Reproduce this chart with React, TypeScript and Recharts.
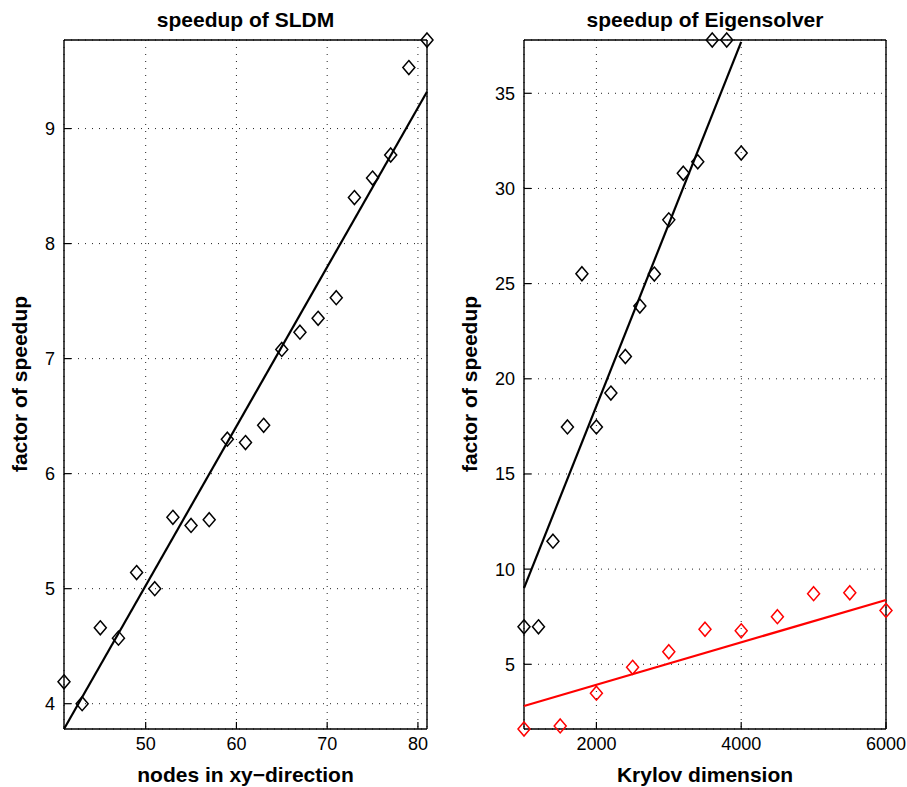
import { ScatterChart, Scatter, XAxis, YAxis, CartesianGrid } from 'recharts'

// left panel: speedup of SLDM
const sldmNodes = [41, 43, 45, 47, 49, 51, 53, 55, 57, 59, 61, 63, 65, 67, 69, 71, 73, 75, 77, 79, 81]
const sldmSpeedup = [4.19, 4.0, 4.66, 4.57, 5.14, 5.0, 5.62, 5.55, 5.6, 6.3, 6.27, 6.42, 7.08, 7.23, 7.35, 7.53, 8.4, 8.57, 8.77, 9.53, 9.77]
const sldmFitNodes = [41, 81]
const sldmFitSpeedup = [3.78, 9.32]
const sldmXTicks = [50, 60, 70, 80]
const sldmYTicks = [4, 5, 6, 7, 8, 9]

// right panel: speedup of Eigensolver
const krylovBlack = [1000, 1200, 1400, 1600, 1800, 2000, 2200, 2400, 2600, 2800, 3000, 3200, 3400, 3600, 3800, 4000]
const eigBlack = [6.97, 6.97, 11.47, 17.47, 25.52, 17.47, 19.25, 21.17, 23.82, 25.5, 28.35, 30.8, 31.4, 37.8, 37.8, 31.86]
const krylovBlackFit = [1000, 4000]
const eigBlackFit = [9.0, 37.7]
const krylovRed = [1000, 1500, 2000, 2500, 3000, 3500, 4000, 4500, 5000, 5500, 6000]
const eigRed = [1.6, 1.76, 3.48, 4.84, 5.66, 6.84, 6.76, 7.5, 8.71, 8.76, 7.83]
const krylovRedFit = [1000, 6000]
const eigRedFit = [2.81, 8.38]
const eigXTicks = [2000, 4000, 6000]
const eigYTicks = [5, 10, 15, 20, 25, 30, 35]

const FONT = '"Liberation Sans", Arial, Helvetica, sans-serif'

const zip = (xs: number[], ys: number[]) => xs.map((x, i) => ({ x, y: ys[i] }))

const diamond = (color: string) => (props: any) => {
  const { cx, cy } = props
  if (cx == null || cy == null) return <g />
  return (
    <polygon
      points={`${cx},${cy - 7} ${cx + 6},${cy} ${cx},${cy + 7} ${cx - 6},${cy}`}
      fill="none"
      stroke={color}
      strokeWidth={1.5}
    />
  )
}

interface Series {
  points: { x: number; y: number }[]
  fit: { x: number; y: number }[]
  color: string
}

interface PanelProps {
  left: number
  width: number
  marginLeft: number
  marginRight: number
  xDomain: [number, number]
  yDomain: [number, number]
  xTicks: number[]
  yTicks: number[]
  series: Series[]
  title: string
  xLabel: string
  yLabelX: number
}

function Panel(p: PanelProps) {
  const plotLeft = p.marginLeft + 40
  const plotRight = p.width - p.marginRight - 1
  const center = (plotLeft + plotRight) / 2
  const tickFont = { fontSize: 18, fill: '#000', fontFamily: FONT }
  const axisLine = { stroke: '#000', strokeWidth: 1.4 }
  const tickLine = { stroke: '#000', strokeWidth: 1.2 }
  const bold = { fontFamily: FONT, fontWeight: 'bold' as const, fontSize: 21, lineHeight: '24px' }
  return (
    <div style={{ position: 'absolute', left: p.left, top: 0, width: p.width, height: 787 }}>
      <ScatterChart
        width={p.width}
        height={787}
        margin={{ top: 39, right: p.marginRight, bottom: 28, left: p.marginLeft }}
      >
        <CartesianGrid stroke="#222" strokeDasharray="1 6" strokeWidth={1} />
        <XAxis
          type="number"
          dataKey="x"
          domain={p.xDomain}
          ticks={p.xTicks}
          height={30}
          tickSize={-7}
          tickMargin={15}
          tick={tickFont}
          axisLine={axisLine}
          tickLine={tickLine}
        />
        <XAxis
          xAxisId="top"
          orientation="top"
          type="number"
          domain={p.xDomain}
          ticks={p.xTicks}
          height={1}
          tickSize={-7}
          tick={false}
          axisLine={axisLine}
          tickLine={tickLine}
        />
        <YAxis
          type="number"
          dataKey="y"
          domain={p.yDomain}
          ticks={p.yTicks}
          width={40}
          tickSize={-7}
          tickMargin={16}
          tick={tickFont}
          axisLine={axisLine}
          tickLine={tickLine}
        />
        <YAxis
          yAxisId="right"
          orientation="right"
          type="number"
          domain={p.yDomain}
          ticks={p.yTicks}
          width={1}
          tickSize={-7}
          tick={false}
          axisLine={axisLine}
          tickLine={tickLine}
        />
        {p.series.map((s, i) => (
          <Scatter
            key={'fit' + i}
            data={s.fit}
            line={{ stroke: s.color, strokeWidth: 2.2 }}
            shape={() => <g />}
            isAnimationActive={false}
          />
        ))}
        {p.series.map((s, i) => (
          <Scatter
            key={'pts' + i}
            data={s.points}
            shape={diamond(s.color)}
            isAnimationActive={false}
          />
        ))}
      </ScatterChart>
      <div style={{ ...bold, position: 'absolute', left: center - 200, width: 400, top: 8, textAlign: 'center' }}>
        {p.title}
      </div>
      <div style={{ ...bold, position: 'absolute', left: center - 200, width: 400, top: 763, textAlign: 'center' }}>
        {p.xLabel}
      </div>
      <div
        style={{
          ...bold, position: 'absolute', left: p.yLabelX - 200, width: 400, top: 384 - 12, textAlign: 'center',
          transform: 'rotate(-90deg)'
        }}
      >
        factor of speedup
      </div>
    </div>
  )
}

export default function App() {
  return (
    <div style={{ position: 'absolute', left: 0, top: 0, width: 907, height: 787, background: '#fff' }}>
      <Panel
        left={0}
        width={453}
        marginLeft={24}
        marginRight={25}
        xDomain={[41, 81]}
        yDomain={[3.78, 9.77]}
        xTicks={sldmXTicks}
        yTicks={sldmYTicks}
        series={[
          { points: zip(sldmNodes, sldmSpeedup), fit: zip(sldmFitNodes, sldmFitSpeedup), color: '#000' }
        ]}
        title="speedup of SLDM"
        xLabel="nodes in xy−direction"
        yLabelX={20}
      />
      <Panel
        left={453}
        width={454}
        marginLeft={31}
        marginRight={20}
        xDomain={[1000, 6000]}
        yDomain={[1.6, 37.8]}
        xTicks={eigXTicks}
        yTicks={eigYTicks}
        series={[
          { points: zip(krylovBlack, eigBlack), fit: zip(krylovBlackFit, eigBlackFit), color: '#000' },
          { points: zip(krylovRed, eigRed), fit: zip(krylovRedFit, eigRedFit), color: '#f00' }
        ]}
        title="speedup of Eigensolver"
        xLabel="Krylov dimension"
        yLabelX={17}
      />
    </div>
  )
}
